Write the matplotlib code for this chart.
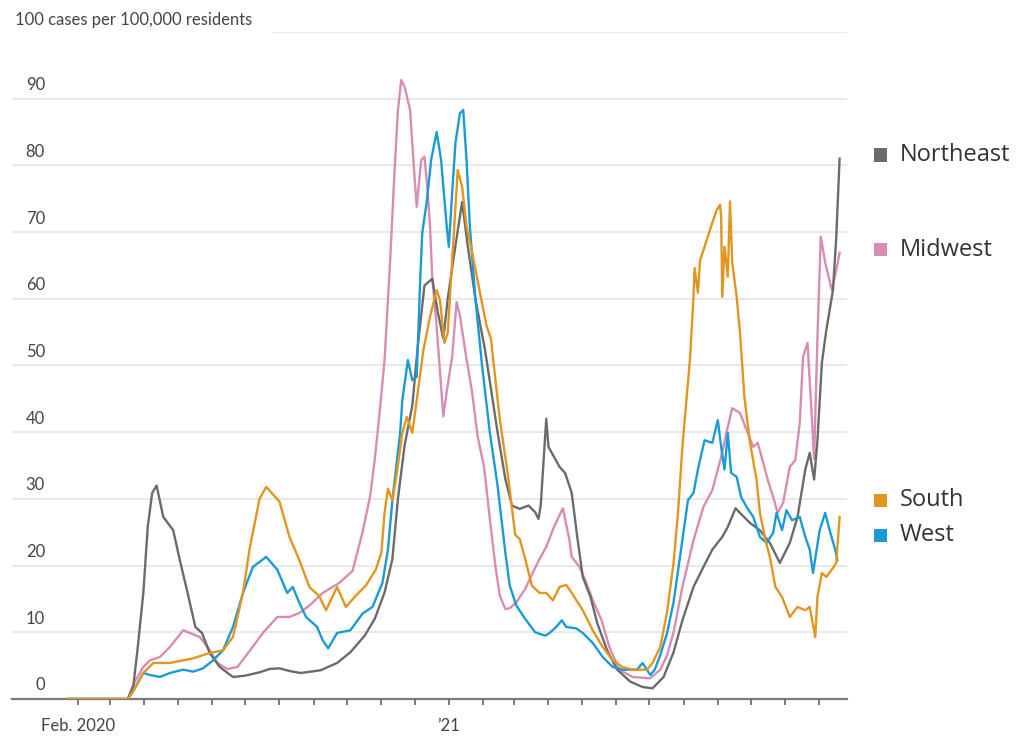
import matplotlib
matplotlib.use('Agg')
import matplotlib.pyplot as plt
import pandas as pd
from matplotlib.patches import Rectangle

CORES = {
    "northeast": "#6b6b6b",
    "midwest": "#d98cb3",
    "south": "#e0961f",
    "west": "#1a9bd7",
    "grid": "#e9e9e9",
    "eixo": "#7a7a7a",
    "texto": "#333333",
}

# casos por 100 mil habitantes (media 7 dias)
ne_datas = ['2020-01-23', '2020-03-17', '2020-03-22', '2020-03-26', '2020-03-31', '2020-04-04',
            '2020-04-08', '2020-04-12', '2020-04-18', '2020-04-27', '2020-05-03', '2020-05-10',
            '2020-05-17', '2020-05-23', '2020-05-30', '2020-06-08', '2020-06-20', '2020-07-01',
            '2020-07-14', '2020-07-23', '2020-08-01', '2020-08-10', '2020-08-20', '2020-08-29',
            '2020-09-07', '2020-09-22', '2020-10-04', '2020-10-17', '2020-10-26', '2020-11-04',
            '2020-11-11', '2020-11-16', '2020-11-22', '2020-11-29', '2020-12-04', '2020-12-10',
            '2020-12-17', '2020-12-22', '2020-12-27', '2020-12-31', '2021-01-07', '2021-01-13',
            '2021-01-18', '2021-01-25', '2021-02-03', '2021-02-14', '2021-02-21', '2021-02-27',
            '2021-03-06', '2021-03-14', '2021-03-20', '2021-03-23', '2021-03-25', '2021-03-30',
            '2021-04-01', '2021-04-11', '2021-04-16', '2021-04-22', '2021-04-27', '2021-05-02',
            '2021-05-09', '2021-05-15', '2021-05-24', '2021-06-02', '2021-06-14', '2021-06-25',
            '2021-07-04', '2021-07-14', '2021-07-23', '2021-07-31', '2021-08-10', '2021-08-19',
            '2021-08-27', '2021-09-05', '2021-09-10', '2021-09-17', '2021-09-21', '2021-09-30',
            '2021-10-09', '2021-10-18', '2021-10-27', '2021-11-05', '2021-11-12', '2021-11-19',
            '2021-11-23', '2021-11-27', '2021-11-30', '2021-12-04', '2021-12-08', '2021-12-14',
            '2021-12-17', '2021-12-20']
ne_casos = [0, 0, 2, 7.8, 15.9, 25.8, 30.9, 32, 27.3, 25.3, 20.8, 15.9,
            10.8, 9.9, 6.9, 4.8, 3.3, 3.5, 4.0, 4.5, 4.6, 4.2, 3.9, 4.1,
            4.3, 5.4, 7, 9.5, 12, 16, 21, 30, 38, 44, 53, 62,
            63, 58, 54, 60, 68, 74.5, 68, 60, 52, 40, 33, 29,
            28.5, 29, 28, 27, 29, 42, 37.8, 34.8, 33.9, 30.9, 24.3, 18.3,
            15.3, 11.4, 7.3, 4.4, 2.6, 1.8, 1.6, 3.3, 7, 11.8, 16.8, 19.8,
            22.4, 24.3, 25.8, 28.6, 27.9, 26.4, 25.3, 23.4, 20.4, 23.4, 27.3, 34.4,
            36.9, 32.9, 38.8, 50.4, 55.3, 61.3, 69.3, 81]

mw_datas = ['2020-01-23', '2020-03-17', '2020-03-23', '2020-03-31', '2020-04-06', '2020-04-15',
            '2020-04-24', '2020-05-06', '2020-05-12', '2020-05-21', '2020-05-28', '2020-06-06',
            '2020-06-15', '2020-06-24', '2020-07-05', '2020-07-17', '2020-07-30', '2020-08-10',
            '2020-08-19', '2020-08-28', '2020-09-09', '2020-09-24', '2020-10-06', '2020-10-15',
            '2020-10-22', '2020-10-26', '2020-10-31', '2020-11-04', '2020-11-09', '2020-11-13',
            '2020-11-16', '2020-11-19', '2020-11-22', '2020-11-27', '2020-12-01', '2020-12-03',
            '2020-12-07', '2020-12-10', '2020-12-13', '2020-12-15', '2020-12-17', '2020-12-21',
            '2020-12-27', '2020-12-30', '2021-01-04', '2021-01-08', '2021-01-11', '2021-01-16',
            '2021-01-22', '2021-01-27', '2021-02-02', '2021-02-07', '2021-02-12', '2021-02-16',
            '2021-02-21', '2021-02-25', '2021-03-03', '2021-03-11', '2021-03-18', '2021-03-24',
            '2021-03-30', '2021-04-06', '2021-04-14', '2021-04-20', '2021-04-22', '2021-04-29',
            '2021-05-04', '2021-05-11', '2021-05-19', '2021-05-26', '2021-06-04', '2021-06-16',
            '2021-07-02', '2021-07-11', '2021-07-17', '2021-07-23', '2021-07-31', '2021-08-10',
            '2021-08-19', '2021-08-27', '2021-09-04', '2021-09-10', '2021-09-14', '2021-09-21',
            '2021-09-27', '2021-10-03', '2021-10-07', '2021-10-12', '2021-10-16', '2021-10-21',
            '2021-10-25', '2021-10-30', '2021-11-05', '2021-11-10', '2021-11-14', '2021-11-17',
            '2021-11-21', '2021-11-25', '2021-11-27', '2021-11-30', '2021-12-03', '2021-12-07',
            '2021-12-13', '2021-12-17', '2021-12-20']
mw_casos = [0, 0, 2.5, 4.8, 5.8, 6.3,
            7.8, 10.3, 9.9, 9.3, 7.8, 5.4,
            4.5, 4.8, 7.2, 9.9, 12.3, 12.3,
            12.9, 14, 15.9, 17.4, 19.2, 25,
            30.5, 35.8, 43.8, 51, 65.8, 79.3,
            88.3, 92.8, 91.8, 88.3, 78.3, 73.8,
            80.8, 81.3, 75.9, 70.8, 63.3, 55.8,
            42.4, 46, 51.3, 59.5, 57.5, 52,
            46, 39.4, 34.6, 27, 20, 15.5,
            13.5, 13.6, 14.5, 16.5, 19, 21,
            22.8, 25.8, 28.6, 23.8, 21.3, 19.8,
            17.9, 14.8, 11.8, 7.8, 4.4, 3.3,
            3.1, 4.4, 6.5, 10, 16.8, 23.8,
            28.8, 31.3, 36.3, 40.8, 43.6, 42.9,
            40.3, 37.8, 38.4, 35.4, 32.9, 30.3,
            27.9, 29.4, 34.8, 35.8, 41.4, 51.3,
            53.4, 42, 36, 54.3, 69.3, 65.4,
            61.3, 64.3, 66.9]

so_datas = ['2020-01-23', '2020-03-17', '2020-03-23', '2020-03-31', '2020-04-09', '2020-04-24',
            '2020-05-15', '2020-05-30', '2020-06-11', '2020-06-20', '2020-06-29', '2020-07-05',
            '2020-07-14', '2020-07-20', '2020-08-01', '2020-08-10', '2020-08-19', '2020-08-28',
            '2020-09-06', '2020-09-12', '2020-09-22', '2020-09-30', '2020-10-09', '2020-10-18',
            '2020-10-27', '2020-11-01', '2020-11-04', '2020-11-07', '2020-11-11', '2020-11-15',
            '2020-11-20', '2020-11-24', '2020-11-29', '2020-12-03', '2020-12-09', '2020-12-15',
            '2020-12-21', '2020-12-24', '2020-12-28', '2020-12-31', '2021-01-05', '2021-01-09',
            '2021-01-13', '2021-01-17', '2021-01-22', '2021-01-29', '2021-02-04', '2021-02-08',
            '2021-02-16', '2021-02-23', '2021-03-02', '2021-03-06', '2021-03-11', '2021-03-17',
            '2021-03-24', '2021-03-30', '2021-04-05', '2021-04-11', '2021-04-17', '2021-04-22',
            '2021-05-02', '2021-05-11', '2021-05-20', '2021-05-29', '2021-06-07', '2021-06-16',
            '2021-06-29', '2021-07-04', '2021-07-11', '2021-07-17', '2021-07-23', '2021-07-27',
            '2021-07-31', '2021-08-07', '2021-08-10', '2021-08-11', '2021-08-14', '2021-08-16',
            '2021-08-20', '2021-08-27', '2021-08-31', '2021-09-03', '2021-09-04', '2021-09-05',
            '2021-09-07', '2021-09-10', '2021-09-12', '2021-09-14', '2021-09-18', '2021-09-21',
            '2021-09-25', '2021-09-30', '2021-10-06', '2021-10-09', '2021-10-14', '2021-10-18',
            '2021-10-23', '2021-10-29', '2021-11-05', '2021-11-12', '2021-11-19', '2021-11-23',
            '2021-11-28', '2021-11-30', '2021-12-04', '2021-12-08', '2021-12-13', '2021-12-17',
            '2021-12-20']
so_casos = [0, 0, 1.5, 3.9, 5.4, 5.4,
            6.1, 6.9, 7.3, 9.3, 15.9, 22.5,
            30, 31.8, 29.6, 24.3, 20.8, 16.8,
            15.4, 13.3, 16.8, 13.8, 15.5, 17,
            19.4, 21.9, 28, 31.5, 29.8, 33.9,
            39.9, 42.3, 39.9, 44.8, 52.3, 57.3,
            61.3, 59.8, 53.4, 54.9, 68.4, 79.3,
            76.8, 70.8, 67, 61, 56, 54,
            42, 34, 24.6, 24, 21, 17,
            15.9, 15.9, 14.8, 16.8, 17.1, 15.9,
            13.3, 10.3, 7.8, 5.8, 4.8, 4.4,
            4.4, 5.4, 7.8, 12.9, 20.4, 27.9,
            37.8, 51.3, 60.3, 64.6, 60.9, 65.8,
            67.8, 71.4, 73.3, 74.1, 72.3, 60.3,
            67.8, 63.3, 74.6, 65.4, 60.3, 55,
            45.3, 38.5, 32.9, 27.9, 23.8, 21.3,
            16.8, 15.3, 12.3, 13.8, 13.3, 13.8,
            9.3, 15.3, 18.9, 18.3, 19.4, 20.4,
            27.3]

we_datas = ['2020-01-23', '2020-03-17', '2020-03-23', '2020-03-31', '2020-04-06', '2020-04-15',
            '2020-04-24', '2020-05-06', '2020-05-15', '2020-05-24', '2020-06-02', '2020-06-11',
            '2020-06-20', '2020-06-29', '2020-07-08', '2020-07-20', '2020-07-30', '2020-08-08',
            '2020-08-13', '2020-08-19', '2020-08-25', '2020-09-04', '2020-09-09', '2020-09-14',
            '2020-09-22', '2020-10-04', '2020-10-15', '2020-10-24', '2020-11-02', '2020-11-07',
            '2020-11-11', '2020-11-18', '2020-11-20', '2020-11-25', '2020-11-29', '2020-12-03',
            '2020-12-06', '2020-12-08', '2020-12-12', '2020-12-16', '2020-12-21', '2020-12-25',
            '2020-12-30', '2021-01-01', '2021-01-04', '2021-01-07', '2021-01-11', '2021-01-14',
            '2021-01-17', '2021-01-20', '2021-01-25', '2021-01-31', '2021-02-07', '2021-02-14',
            '2021-02-21', '2021-02-25', '2021-03-03', '2021-03-11', '2021-03-20', '2021-03-29',
            '2021-04-02', '2021-04-08', '2021-04-13', '2021-04-17', '2021-04-26', '2021-05-02',
            '2021-05-11', '2021-05-20', '2021-05-29', '2021-06-07', '2021-06-20', '2021-06-25',
            '2021-07-02', '2021-07-06', '2021-07-11', '2021-07-17', '2021-07-23', '2021-07-29',
            '2021-08-05', '2021-08-10', '2021-08-14', '2021-08-20', '2021-08-27', '2021-09-01',
            '2021-09-04', '2021-09-07', '2021-09-10', '2021-09-13', '2021-09-18', '2021-09-22',
            '2021-09-27', '2021-10-03', '2021-10-09', '2021-10-15', '2021-10-21', '2021-10-24',
            '2021-10-29', '2021-11-02', '2021-11-07', '2021-11-14', '2021-11-19', '2021-11-23',
            '2021-11-26', '2021-12-02', '2021-12-07', '2021-12-11', '2021-12-16', '2021-12-18']
we_casos = [0, 0, 1.5, 3.9, 3.6, 3.3,
            3.9, 4.4, 4.1, 4.6, 5.8, 7.3,
            10.8, 15.9, 19.8, 21.3, 19.4, 15.9,
            16.8, 14.4, 12.3, 10.8, 8.8, 7.6,
            9.9, 10.3, 12.8, 13.8, 17.4, 22.4,
            29.8, 39.9, 44.8, 50.8, 47.8, 48.3,
            62.4, 69.9, 74.5, 80.8, 85, 80.8,
            71, 67.8, 75.9, 83.4, 87.8, 88.3,
            80.8, 70.8, 60, 50, 40, 32,
            22, 17, 14, 12, 10, 9.5,
            9.9, 10.8, 11.8, 10.8, 10.6, 9.9,
            8.4, 6.3, 4.8, 4.4, 4.4, 5.4,
            3.6, 4.4, 6.6, 9.8, 14.5, 21.5,
            29.8, 30.9, 34.4, 38.8, 38.4, 41.8,
            37.8, 34.4, 39.9, 33.9, 33.3, 30.3,
            28.8, 27.3, 24.3, 23.4, 24.9, 27.9,
            25.3, 28.3, 26.8, 27.3, 24.3, 22.4,
            18.9, 25.3, 27.9, 25.3, 22.4, 20.8]

regioes = ['Northeast', 'Midwest', 'South', 'West']
meses = pd.date_range('2020-02-01', '2021-12-01', freq='MS')
rotulos_y = [0, 10, 20, 30, 40, 50, 60, 70, 80, 90]

fig = plt.figure(figsize=(10.18, 7.40), dpi=100)
fig.set_facecolor('white')
ax = fig.add_axes([0.0118, 0.0554, 0.8202, 0.9014])

# linhas de grade feitas a mao (estilo WSJ)
for v in rotulos_y[1:]:
    ax.axhline(v, color=CORES["grid"], linewidth=1.4, zorder=0)
ax.axhline(100, xmin=0.313, color=CORES["grid"], linewidth=1.4, zorder=0)

series = [
    (mw_datas, mw_casos, CORES["midwest"]),
    (ne_datas, ne_casos, CORES["northeast"]),
    (we_datas, we_casos, CORES["west"]),
    (so_datas, so_casos, CORES["south"]),
]
for datas, casos, cor in series:
    ax.plot(pd.to_datetime(datas), casos, color=cor, linewidth=1.7,
            solid_joinstyle='round', zorder=3)

ax.set_xlim(pd.Timestamp('2019-12-03 09:00'), pd.Timestamp('2021-12-26 16:00'))
ax.set_ylim(0, 100)

# eixo x
ax.set_xticks(meses)
rot_x = ['' for m in meses]
rot_x[0] = 'Feb. 2020'
rot_x[11] = "\u201921"
ax.set_xticklabels(rot_x, fontsize=12, family='Lato', color='#444444')
ax.set_xticks([pd.Timestamp('2021-01-01')], minor=True)
ax.tick_params(axis='x', which='major', length=4, width=1.1, color='#555555', pad=10)
ax.tick_params(axis='x', which='minor', length=8, width=1.1, color='#555555')
ax.set_yticks([])

for s in ['top', 'right', 'left']:
    ax.spines[s].set_visible(False)
ax.spines['bottom'].set_color(CORES["eixo"])
ax.spines['bottom'].set_linewidth(1.6)

# rotulos do eixo y acima das linhas de grade
ytrans = ax.get_yaxis_transform()
for v in rotulos_y:
    ax.annotate(str(v), xy=(0.0395, v), xycoords=ytrans, xytext=(0, 4),
                textcoords='offset points', ha='right', va='bottom',
                fontsize=12, family='Lato', color='#444444')
ax.annotate('100 cases per 100,000 residents', xy=(0.004, 100), xycoords=ytrans,
            xytext=(0, 3), textcoords='offset points', ha='left', va='bottom',
            fontsize=12, family='Lato', color='#444444')

# legenda a direita
leg_y = [155, 250, 500, 535]
cores_leg = [CORES["northeast"], CORES["midwest"], CORES["south"], CORES["west"]]
for nome, py, cor in zip(regioes, leg_y, cores_leg):
    yf = 1 - py / 740
    fig.patches.append(Rectangle((874 / 1018, yf - 6.5 / 740), 13 / 1018, 13 / 740,
                                 transform=fig.transFigure, facecolor=cor,
                                 edgecolor='none'))
    fig.text(900 / 1018, yf, nome, ha='left', va='center', fontsize=17,
             family='Open Sans', color=CORES["texto"])

plt.savefig('out.png', dpi=100, facecolor='white')
